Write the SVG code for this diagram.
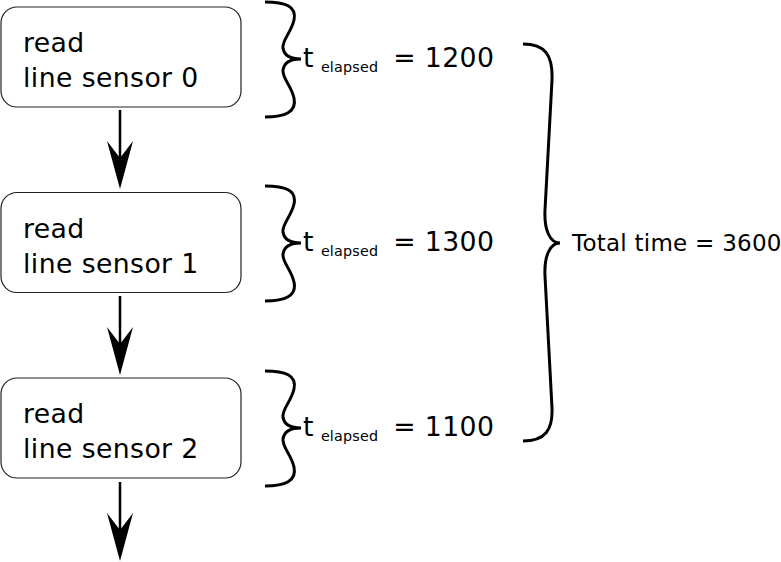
<svg xmlns="http://www.w3.org/2000/svg" width="781" height="562" viewBox="0 0 781 562">
<style>
.box{fill:#fff;stroke:#222;stroke-width:1.2}
.t{font-family:"DejaVu Sans",sans-serif;font-size:26.7px;letter-spacing:0.4px;fill:#000}
.sub{font-family:"DejaVu Sans",sans-serif;font-size:14.3px;letter-spacing:0.2px;fill:#000}
.tot{font-family:"DejaVu Sans",sans-serif;font-size:23px;letter-spacing:0.25px;fill:#000}
.br{fill:none;stroke:#000;stroke-width:3;stroke-linecap:butt}
.ln{stroke:#000;stroke-width:2.5}
.hd{fill:#000}
</style>
<rect width="781" height="562" fill="#fff"/>
<g id="node0">
<rect class="box" x="1" y="7" width="240" height="100" rx="16"/>
<text class="t" x="23" y="52">read</text>
<text class="t" x="23" y="87">line sensor 0</text>
</g>
<g id="node1">
<rect class="box" x="1" y="192.5" width="240" height="100" rx="16"/>
<text class="t" x="23" y="237.5">read</text>
<text class="t" x="23" y="272.5">line sensor 1</text>
</g>
<g id="node2">
<rect class="box" x="1" y="378" width="240" height="100" rx="16"/>
<text class="t" x="23" y="423">read</text>
<text class="t" x="23" y="458">line sensor 2</text>
</g>
<g id="connectors">
<line class="ln" x1="120" y1="110" x2="120" y2="162"/>
<path class="hd" d="M120,189 L107,141 L120,158 L133,141 Z"/>
<line class="ln" x1="120" y1="296" x2="120" y2="348"/>
<path class="hd" d="M120,375 L107,327 L120,344 L133,327 Z"/>
<line class="ln" x1="120" y1="482" x2="120" y2="534"/>
<path class="hd" d="M120,561 L107,513 L120,530 L133,513 Z"/>
</g>
<g id="brace0">
<path class="br" d="M265,2 C285,2 297,6 294,20 C291,33 282,40 283,48 C284,55 290,59 301,59 C290,59 284,63 283,70 C282,78 291,85 294,98 C297,112 285,117 265,117"/>
<text class="t" x="303" y="67">t<tspan class="sub" dx="7" dy="5">elapsed</tspan><tspan dx="15" dy="-5">= 1200</tspan></text>
</g>
<g id="brace1">
<path class="br" d="M265,186 C285,186 297,190 294,204 C291,217 282,224 283,232 C284,239 290,243 301,243 C290,243 284,247 283,254 C282,262 291,269 294,282 C297,296 285,301 265,301"/>
<text class="t" x="303" y="251">t<tspan class="sub" dx="7" dy="5">elapsed</tspan><tspan dx="15" dy="-5">= 1300</tspan></text>
</g>
<g id="brace2">
<path class="br" d="M265,371 C285,371 297,375 294,389 C291,402 282,409 283,417 C284,424 290,428 301,428 C290,428 284,432 283,439 C282,447 291,454 294,467 C297,481 285,486 265,486"/>
<text class="t" x="303" y="436">t<tspan class="sub" dx="7" dy="5">elapsed</tspan><tspan dx="15" dy="-5">= 1100</tspan></text>
</g>
<g id="total">
<path class="br" d="M523,44 C545,44 553,55 552,80 L545,210 C544,230 550,243 560,243 C550,243 544,256 545,276 L552,408 C553,430 545,441 523,441"/>
<text class="tot" x="572" y="251">Total time = 3600</text>
</g>
</svg>
